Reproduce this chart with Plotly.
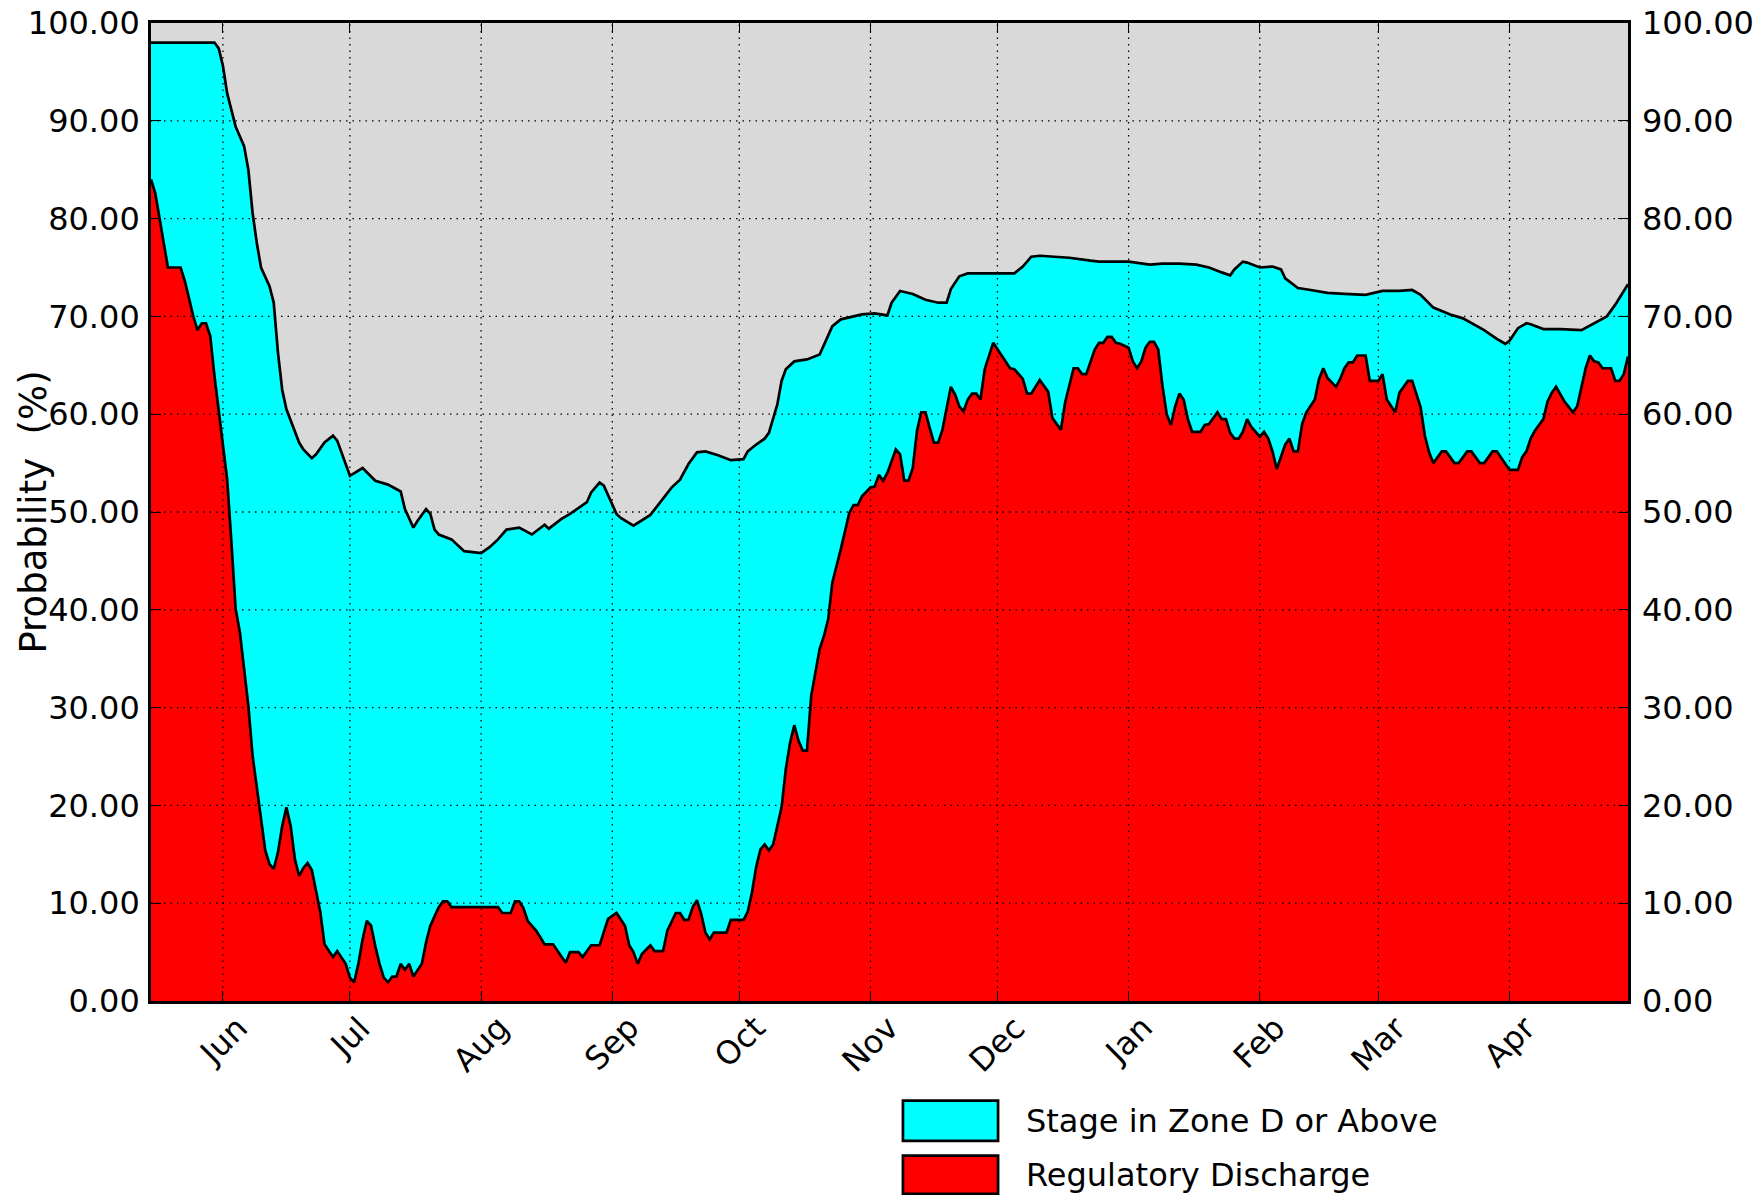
import plotly.graph_objects as go

# ---------------- data ----------------
upper_dates = [
    "2017-05-15", "2017-05-30", "2017-05-31", "2017-06-01", "2017-06-02", "2017-06-04", "2017-06-06",
    "2017-06-07", "2017-06-08", "2017-06-09", "2017-06-10", "2017-06-12", "2017-06-13", "2017-06-14",
    "2017-06-15", "2017-06-16", "2017-06-19", "2017-06-20", "2017-06-22", "2017-06-23", "2017-06-25",
    "2017-06-27", "2017-06-28", "2017-06-30", "2017-07-01", "2017-07-04", "2017-07-07", "2017-07-10",
    "2017-07-13", "2017-07-14", "2017-07-16", "2017-07-17", "2017-07-19", "2017-07-20", "2017-07-21",
    "2017-07-22", "2017-07-25", "2017-07-28", "2017-07-31", "2017-08-01", "2017-08-03", "2017-08-05",
    "2017-08-07", "2017-08-10", "2017-08-13", "2017-08-16", "2017-08-17", "2017-08-20", "2017-08-22",
    "2017-08-24", "2017-08-26", "2017-08-27", "2017-08-29", "2017-08-30", "2017-09-02", "2017-09-03",
    "2017-09-06", "2017-09-10", "2017-09-12", "2017-09-15", "2017-09-17", "2017-09-19", "2017-09-21",
    "2017-09-23", "2017-09-26", "2017-09-29", "2017-10-02", "2017-10-03", "2017-10-05", "2017-10-07",
    "2017-10-08", "2017-10-10", "2017-10-11", "2017-10-12", "2017-10-14", "2017-10-17", "2017-10-20",
    "2017-10-21", "2017-10-23", "2017-10-25", "2017-10-27", "2017-10-30", "2017-11-02", "2017-11-05",
    "2017-11-06", "2017-11-08", "2017-11-11", "2017-11-14", "2017-11-17", "2017-11-19", "2017-11-20",
    "2017-11-22", "2017-11-24", "2017-12-01", "2017-12-05", "2017-12-07", "2017-12-09", "2017-12-11",
    "2017-12-18", "2017-12-23", "2017-12-25", "2018-01-01", "2018-01-06", "2018-01-09", "2018-01-13",
    "2018-01-17", "2018-01-20", "2018-01-23", "2018-01-25", "2018-01-26", "2018-01-28", "2018-01-29",
    "2018-02-01", "2018-02-04", "2018-02-06", "2018-02-07", "2018-02-10", "2018-02-13", "2018-02-17",
    "2018-02-21", "2018-02-26", "2018-03-02", "2018-03-06", "2018-03-09", "2018-03-11", "2018-03-14",
    "2018-03-18", "2018-03-21", "2018-03-23", "2018-03-26", "2018-03-29", "2018-03-31", "2018-04-01",
    "2018-04-03", "2018-04-05", "2018-04-06", "2018-04-09", "2018-04-13", "2018-04-18", "2018-04-21",
    "2018-04-24", "2018-04-26", "2018-04-29",
]
upper_vals = [
    98.0, 98.0, 97.4, 95.6, 92.8, 89.4, 87.4,
    85.0, 80.6, 77.5, 75.0, 73.1, 71.4, 66.3,
    62.5, 60.5, 57.1, 56.4, 55.5, 55.9, 57.1,
    57.8, 57.3, 55.0, 53.7, 54.5, 53.2, 52.8,
    52.1, 50.3, 48.4, 49.1, 50.3, 49.8, 48.2,
    47.7, 47.2, 46.0, 45.8, 45.8, 46.4, 47.2,
    48.2, 48.4, 47.7, 48.7, 48.3, 49.3, 49.8,
    50.4, 51.0, 52.0, 53.0, 52.7, 49.8, 49.4,
    48.6, 49.7, 50.8, 52.5, 53.3, 54.9, 56.1,
    56.2, 55.8, 55.3, 55.4, 56.2, 56.9, 57.5,
    58.1, 61.0, 63.4, 64.6, 65.4, 65.6, 66.1,
    67.1, 69.0, 69.7, 69.9, 70.2, 70.3, 70.1,
    71.4, 72.6, 72.3, 71.7, 71.4, 71.4, 72.8,
    74.1, 74.4, 74.4, 74.4, 75.1, 76.1, 76.2,
    76.0, 75.7, 75.6, 75.6, 75.3, 75.4, 75.4,
    75.3, 75.0, 74.5, 74.2, 74.8, 75.6, 75.5,
    75.0, 75.1, 74.8, 73.9, 72.9, 72.7, 72.4,
    72.3, 72.2, 72.6, 72.6, 72.7, 72.2, 70.9,
    70.2, 69.8, 69.3, 68.6, 67.7, 67.2, 67.5,
    68.8, 69.3, 69.2, 68.7, 68.7, 68.6, 69.3,
    70.0, 71.2, 73.3,
]

lower_dates = [
    "2017-05-15", "2017-05-16", "2017-05-19", "2017-05-22", "2017-05-23", "2017-05-25", "2017-05-26",
    "2017-05-27", "2017-05-28", "2017-05-29", "2017-05-30", "2017-05-31", "2017-06-02", "2017-06-03",
    "2017-06-04", "2017-06-05", "2017-06-07", "2017-06-08", "2017-06-10", "2017-06-11", "2017-06-12",
    "2017-06-13", "2017-06-14", "2017-06-15", "2017-06-16", "2017-06-17", "2017-06-18", "2017-06-19",
    "2017-06-20", "2017-06-21", "2017-06-22", "2017-06-24", "2017-06-25", "2017-06-27", "2017-06-28",
    "2017-06-30", "2017-07-01", "2017-07-02", "2017-07-03", "2017-07-04", "2017-07-05", "2017-07-06",
    "2017-07-07", "2017-07-08", "2017-07-09", "2017-07-10", "2017-07-11", "2017-07-12", "2017-07-13",
    "2017-07-14", "2017-07-15", "2017-07-16", "2017-07-18", "2017-07-19", "2017-07-20", "2017-07-22",
    "2017-07-23", "2017-07-24", "2017-07-25", "2017-08-05", "2017-08-06", "2017-08-08", "2017-08-09",
    "2017-08-10", "2017-08-11", "2017-08-12", "2017-08-14", "2017-08-16", "2017-08-18", "2017-08-21",
    "2017-08-22", "2017-08-24", "2017-08-25", "2017-08-27", "2017-08-29", "2017-08-30", "2017-08-31",
    "2017-09-02", "2017-09-04", "2017-09-05", "2017-09-06", "2017-09-07", "2017-09-08", "2017-09-10",
    "2017-09-11", "2017-09-13", "2017-09-14", "2017-09-16", "2017-09-17", "2017-09-18", "2017-09-19",
    "2017-09-20", "2017-09-21", "2017-09-22", "2017-09-23", "2017-09-24", "2017-09-25", "2017-09-28",
    "2017-09-29", "2017-10-02", "2017-10-03", "2017-10-04", "2017-10-05", "2017-10-06", "2017-10-07",
    "2017-10-08", "2017-10-09", "2017-10-11", "2017-10-12", "2017-10-13", "2017-10-14", "2017-10-15",
    "2017-10-16", "2017-10-17", "2017-10-18", "2017-10-20", "2017-10-21", "2017-10-22", "2017-10-23",
    "2017-10-25", "2017-10-26", "2017-10-27", "2017-10-28", "2017-10-29", "2017-10-30", "2017-11-01",
    "2017-11-02", "2017-11-03", "2017-11-04", "2017-11-05", "2017-11-07", "2017-11-08", "2017-11-09",
    "2017-11-10", "2017-11-11", "2017-11-12", "2017-11-13", "2017-11-14", "2017-11-15", "2017-11-16",
    "2017-11-17", "2017-11-18", "2017-11-20", "2017-11-21", "2017-11-22", "2017-11-23", "2017-11-24",
    "2017-11-25", "2017-11-26", "2017-11-27", "2017-11-28", "2017-11-30", "2017-12-02", "2017-12-04",
    "2017-12-05", "2017-12-07", "2017-12-08", "2017-12-09", "2017-12-11", "2017-12-13", "2017-12-14",
    "2017-12-16", "2017-12-17", "2017-12-19", "2017-12-20", "2017-12-21", "2017-12-22", "2017-12-24",
    "2017-12-25", "2017-12-26", "2017-12-27", "2017-12-28", "2017-12-29", "2017-12-30", "2018-01-01",
    "2018-01-02", "2018-01-03", "2018-01-04", "2018-01-05", "2018-01-06", "2018-01-07", "2018-01-08",
    "2018-01-09", "2018-01-10", "2018-01-11", "2018-01-12", "2018-01-13", "2018-01-14", "2018-01-15",
    "2018-01-16", "2018-01-18", "2018-01-19", "2018-01-20", "2018-01-22", "2018-01-23", "2018-01-24",
    "2018-01-25", "2018-01-26", "2018-01-27", "2018-01-28", "2018-01-29", "2018-01-30", "2018-02-01",
    "2018-02-02", "2018-02-03", "2018-02-04", "2018-02-05", "2018-02-06", "2018-02-07", "2018-02-08",
    "2018-02-09", "2018-02-10", "2018-02-11", "2018-02-12", "2018-02-14", "2018-02-15", "2018-02-16",
    "2018-02-17", "2018-02-19", "2018-02-20", "2018-02-21", "2018-02-22", "2018-02-23", "2018-02-24",
    "2018-02-26", "2018-02-27", "2018-03-01", "2018-03-02", "2018-03-03", "2018-03-05", "2018-03-06",
    "2018-03-08", "2018-03-09", "2018-03-11", "2018-03-12", "2018-03-13", "2018-03-14", "2018-03-16",
    "2018-03-17", "2018-03-19", "2018-03-20", "2018-03-22", "2018-03-23", "2018-03-25", "2018-03-26",
    "2018-03-28", "2018-03-29", "2018-04-01", "2018-04-03", "2018-04-04", "2018-04-05", "2018-04-06",
    "2018-04-07", "2018-04-09", "2018-04-10", "2018-04-11", "2018-04-12", "2018-04-14", "2018-04-16",
    "2018-04-17", "2018-04-18", "2018-04-19", "2018-04-20", "2018-04-21", "2018-04-22", "2018-04-23",
    "2018-04-25", "2018-04-26", "2018-04-27", "2018-04-28", "2018-04-29",
]
lower_vals = [
    84.0, 82.6, 75.0, 75.0, 73.6, 70.0, 68.6,
    69.3, 69.3, 68.0, 63.9, 60.2, 53.3, 46.9,
    40.1, 37.7, 30.2, 25.1, 18.4, 15.4, 14.0,
    13.5, 15.2, 17.9, 19.8, 17.9, 14.5, 12.8,
    13.6, 14.1, 13.4, 9.1, 5.8, 4.5, 5.1,
    3.8, 2.4, 1.9, 3.8, 6.3, 8.2, 7.7,
    5.6, 3.8, 2.4, 1.9, 2.5, 2.5, 3.8,
    3.2, 3.8, 2.5, 3.8, 6.0, 7.7, 9.6,
    10.2, 10.2, 9.6, 9.6, 9.0, 9.0, 10.2,
    10.2, 9.5, 8.2, 7.2, 5.8, 5.8, 3.9,
    5.0, 5.0, 4.5, 5.7, 5.7, 7.0, 8.4,
    9.0, 7.7, 5.7, 5.0, 3.8, 4.8, 5.7,
    5.1, 5.1, 7.2, 9.0, 9.0, 8.3, 8.3,
    9.6, 10.3, 8.9, 7.0, 6.3, 7.0, 7.0,
    8.3, 8.3, 9.1, 11.1, 13.7, 15.5, 16.0,
    15.4, 16.0, 19.8, 23.7, 26.4, 28.2, 26.6,
    25.6, 25.6, 31.2, 36.0, 37.3, 39.0, 42.8,
    46.2, 48.1, 49.9, 50.7, 50.7, 51.6, 52.5,
    52.6, 53.8, 53.2, 54.0, 56.4, 55.9, 53.2,
    53.2, 54.5, 58.3, 60.2, 60.2, 58.6, 57.1,
    57.1, 58.4, 62.8, 62.0, 60.8, 60.3, 61.5,
    62.1, 62.1, 61.5, 64.6, 67.3, 66.0, 64.7,
    64.6, 63.6, 62.1, 62.1, 63.5, 62.3, 59.6,
    58.4, 61.2, 64.7, 64.7, 64.1, 64.1, 66.6,
    67.3, 67.3, 67.9, 67.9, 67.3, 67.2, 66.8,
    65.4, 64.7, 65.4, 66.8, 67.4, 67.4, 66.6,
    62.9, 60.0, 58.9, 60.8, 62.1, 61.5, 59.5,
    58.2, 58.2, 58.9, 59.0, 60.2, 59.5, 59.5,
    58.1, 57.5, 57.5, 58.2, 59.5, 58.7, 57.7,
    58.2, 57.5, 56.2, 54.4, 55.6, 56.9, 57.5,
    56.2, 56.2, 59.0, 60.2, 61.5, 63.6, 64.7,
    63.7, 62.8, 63.6, 64.7, 65.3, 65.3, 66.0,
    66.0, 63.4, 63.4, 64.1, 61.5, 60.2, 62.2,
    63.4, 63.4, 60.7, 57.8, 56.1, 55.0, 56.2,
    56.2, 55.0, 55.0, 56.2, 56.2, 55.0, 55.0,
    56.2, 56.2, 54.3, 54.3, 55.6, 56.2, 57.5,
    58.3, 59.5, 61.3, 62.2, 62.8, 61.3, 60.2,
    60.8, 62.9, 64.7, 66.0, 65.4, 65.3, 64.7,
    64.7, 63.4, 63.4, 64.1, 65.9,
]

month_ticks = ["2017-06-01", "2017-07-01", "2017-08-01", "2017-09-01", "2017-10-01", "2017-11-01",
               "2017-12-01", "2018-01-01", "2018-02-01", "2018-03-01", "2018-04-01"]
month_labels = ["Jun", "Jul", "Aug", "Sep", "Oct", "Nov", "Dec", "Jan", "Feb", "Mar", "Apr"]
y_ticks = [0, 10, 20, 30, 40, 50, 60, 70, 80, 90, 100]
x_range = ["2017-05-15", "2018-04-29"]

series_names = ["Stage in Zone D or Above", "Regulatory Discharge"]
series_colors = ["#00ffff", "#ff0000"]

FONT = "DejaVu Sans"
FS = 32

fig = go.Figure()
fig.add_trace(go.Scatter(x=lower_dates, y=lower_vals, mode="lines", fill="tozeroy",
                         fillcolor=series_colors[1], line=dict(color="black", width=2.7),
                         name=series_names[1], showlegend=False))
fig.add_trace(go.Scatter(x=upper_dates, y=upper_vals, mode="lines", fill="tonexty",
                         fillcolor=series_colors[0], line=dict(color="black", width=2.7),
                         name=series_names[0], showlegend=False))
# invisible copy on the right-hand axis so that axis (mirror of the left one) is drawn
fig.add_trace(go.Scatter(x=upper_dates, y=upper_vals, yaxis="y2", mode="lines",
                         line=dict(color="rgba(0,0,0,0)", width=0), hoverinfo="skip",
                         showlegend=False))

shapes = []
# dotted grid drawn above the filled areas (as in the reference)
for d in month_ticks:
    shapes.append(dict(type="line", xref="x", yref="paper", x0=d, x1=d, y0=0, y1=1, layer="above",
                       line=dict(color="black", width=1.3, dash="1.5px,5px")))
for v in y_ticks[1:-1]:
    shapes.append(dict(type="line", xref="paper", yref="y", x0=0, x1=1, y0=v, y1=v, layer="above",
                       line=dict(color="black", width=1.3, dash="1.5px,5px")))

annotations = []
for d, lab in zip(month_ticks, month_labels):
    annotations.append(dict(x=d, xref="x", y=0, yref="paper", text=lab, showarrow=False,
                            textangle=-45, xanchor="center", yanchor="top", yshift=-5,
                            font=dict(family=FONT, size=FS, color="black")))
annotations.append(dict(x=-0.0802, xref="paper", y=0.5, yref="paper", text="Probability \u00a0(%)",
                        showarrow=False, textangle=-90, xanchor="center", yanchor="middle",
                        font=dict(family=FONT, size=37, color="black")))

# legend drawn below the plot
leg_x0, leg_x1, leg_tx = 0.5091, 0.5735, 0.5911
leg_rows = [(-0.1019, -0.1431), (-0.1582, -0.1973)]
for (y0, y1), name, col in zip(leg_rows, series_names, series_colors):
    shapes.append(dict(type="rect", xref="paper", yref="paper", x0=leg_x0, x1=leg_x1, y0=y0, y1=y1,
                       fillcolor=col, line=dict(color="black", width=2.7), layer="above"))
    annotations.append(dict(x=leg_tx, xref="paper", y=(y0 + y1) / 2, yref="paper", text=name,
                            showarrow=False, xanchor="left", yanchor="middle",
                            font=dict(family=FONT, size=FS, color="black")))

axis_common = dict(showline=True, linecolor="black", linewidth=2.7, ticks="inside", ticklen=10,
                   tickwidth=1.3, tickcolor="black", showgrid=False, zeroline=False,
                   automargin=False)

fig.update_layout(
    width=1761, height=1195,
    margin=dict(l=151, r=133, t=23, b=194, autoexpand=False),
    paper_bgcolor="white", plot_bgcolor="#d9d9d9",
    font=dict(family=FONT, size=FS, color="black"),
    showlegend=False,
    hovermode=False,
    xaxis=dict(type="date", range=x_range, tickvals=month_ticks, showticklabels=False,
               mirror="ticks", **axis_common),
    yaxis=dict(range=[0, 100], tickvals=y_ticks, tickformat=".2f", mirror="ticks",
               tickfont=dict(family=FONT, size=FS, color="black"), ticklabelstandoff=2,
               ticklabeloverflow="allow", **axis_common),
    yaxis2=dict(range=[0, 100], tickvals=y_ticks, tickformat=".2f", overlaying="y", side="right",
                showline=False, ticks="", showgrid=False, zeroline=False, automargin=False,
                tickfont=dict(family=FONT, size=FS, color="black"), ticklabelstandoff=13,
                ticklabeloverflow="allow"),
    shapes=shapes,
    annotations=annotations,
)

# remove the browser's default 8px body margin so the figure fills the window exactly
fig.write_html("out.html", config={"displayModeBar": False},
               post_script="document.body.style.margin='0px';")
